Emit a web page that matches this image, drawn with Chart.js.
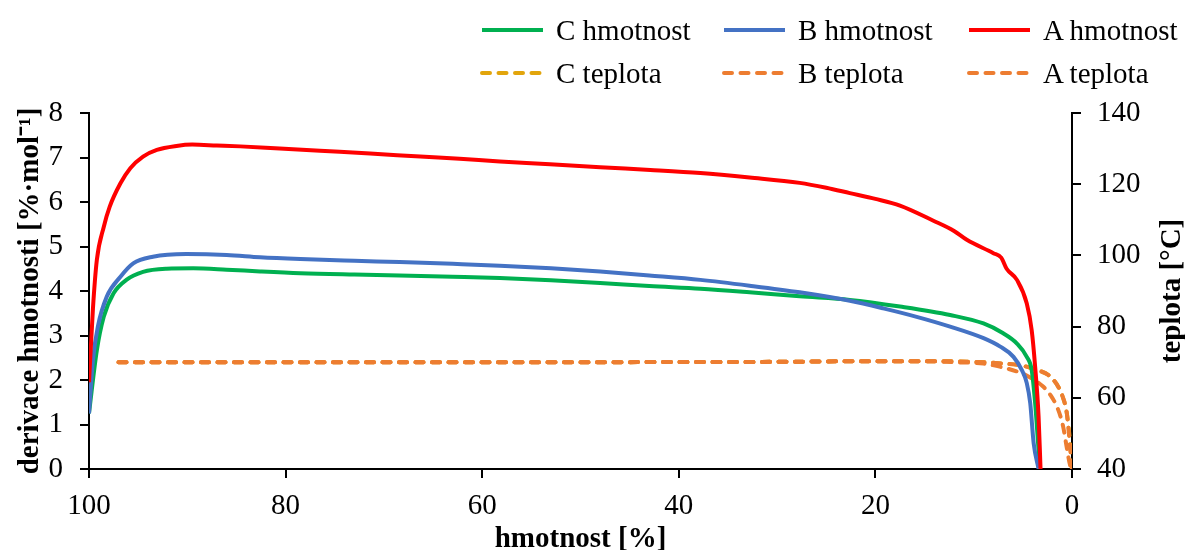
<!DOCTYPE html>
<html>
<head>
<meta charset="utf-8">
<script src="https://cdn.jsdelivr.net/npm/chart.js@4.4.1/dist/chart.umd.min.js"></script>
<style>
  html, body { margin: 0; padding: 0; background: #fff; }
  #wrap { position: relative; width: 1185px; height: 550px; }
  #legend { position: absolute; left: 0; top: 0; width: 1185px; height: 100px; font-family: 'Liberation Serif', 'Times New Roman', serif; font-size: 29px; color: #000; }
  .item { position: absolute; height: 36px; white-space: nowrap; }
  .item svg { position: absolute; left: 0; top: 0; }
  .item span { position: absolute; left: 76px; top: 0; line-height: 36px; }
</style>
</head>
<body>
<div id="wrap">
  <canvas id="c" width="1185" height="550"></canvas>
  <div id="legend"></div>
</div>
<script>
// ---- data (x = hmotnost [%]) ----
const aHmotX = [100, 99.6, 99.2, 98.5, 97.9, 96.8, 95.8, 94.5, 93.1, 91.1, 89.5, 87, 84.6, 80.6, 76.5, 71.4, 66.3, 62.3, 58.2, 53.1, 48, 42.9, 37.8, 32.8, 27.7, 25, 22.6, 20, 17.5, 14.1, 12, 10.7, 8, 7.2, 6.65, 5.6, 4.6, 4.1, 3.75, 3.4, 3.2];
const aHmotY = [1.95, 3.6, 4.7, 5.44, 5.89, 6.42, 6.76, 7.02, 7.17, 7.26, 7.29, 7.27, 7.25, 7.2, 7.15, 7.09, 7.02, 6.97, 6.91, 6.85, 6.78, 6.72, 6.65, 6.55, 6.43, 6.32, 6.2, 6.07, 5.92, 5.58, 5.35, 5.15, 4.85, 4.75, 4.5, 4.25, 3.72, 3.12, 2.3, 1.18, 0];

const bHmotX = [100, 99.6, 99.1, 98.2, 96.8, 95.5, 93.5, 90.1, 86, 82.6, 78.5, 73, 68.4, 63, 58.2, 53, 48, 43, 37.8, 32.8, 27.7, 22.6, 19.2, 15.8, 12.4, 9, 7.3, 5.95, 5.1, 4.6, 4.25, 3.9, 3.4];
const bHmotY = [1.25, 2.45, 3.2, 3.87, 4.32, 4.62, 4.77, 4.83, 4.81, 4.76, 4.72, 4.68, 4.65, 4.61, 4.57, 4.51, 4.44, 4.35, 4.25, 4.12, 3.97, 3.78, 3.61, 3.42, 3.2, 2.94, 2.75, 2.52, 2.22, 1.93, 1.48, 0.58, 0];

const cHmotX = [100, 99.2, 98.5, 97.5, 96.2, 94.5, 92.1, 89.4, 86, 82.6, 78.5, 73, 68.4, 63, 58.2, 53, 48, 43, 37.8, 32.8, 27.7, 22.6, 17.5, 12.4, 9, 7, 5.6, 4.6, 4.1, 3.75, 3.4, 3.25];
const cHmotY = [1.25, 2.67, 3.42, 3.95, 4.25, 4.43, 4.5, 4.51, 4.48, 4.44, 4.4, 4.37, 4.35, 4.32, 4.29, 4.24, 4.18, 4.11, 4.05, 3.97, 3.88, 3.8, 3.65, 3.46, 3.27, 3.05, 2.82, 2.52, 2.22, 1.48, 0.43, 0];

const aTeplX = [97, 90, 80, 70, 60, 50, 40, 30, 20, 15, 10, 7, 5, 3.6, 2.4, 1.4, 0.9, 0.55, 0.38, 0.2, 0];
const aTeplY = [70, 70, 70, 70, 70, 70, 70.05, 70.1, 70.3, 70.3, 70.1, 69.6, 69, 67.8, 66.4, 63.1, 59.9, 56.1, 51.9, 46.3, 40];

const bTeplX = [97, 90, 80, 70, 60, 50, 40, 30, 20, 15, 12, 9, 7, 5.5, 4.3, 3, 2.2, 1.4, 0.9, 0.55, 0.2, 0];
const bTeplY = [70, 70, 70, 70, 70, 70, 70.05, 70.1, 70.3, 70.3, 70, 69.6, 68.5, 67.3, 65.8, 63.3, 60.8, 56.6, 51.9, 46.3, 41.1, 40];

const cTeplX = [97, 90, 80, 70, 60, 50, 40, 30, 20, 15, 10, 7, 5, 3.6, 2.4, 1.4, 0.9, 0.55, 0.3, 0.1, 0];
const cTeplY = [70, 70, 70, 70, 70, 70, 70.05, 70.1, 70.3, 70.3, 70.1, 69.6, 69, 67.8, 66.4, 63.1, 59.9, 56.1, 50.5, 44, 40];

const xTicks = [0, 20, 40, 60, 80, 100];
const yLeftTicks = [0, 1, 2, 3, 4, 5, 6, 7, 8];
const yRightTicks = [40, 60, 80, 100, 120, 140];

const seriesNames = ['C hmotnost', 'B hmotnost', 'A hmotnost', 'C teplota', 'B teplota', 'A teplota'];
const seriesColors = ['#00B050', '#4472C4', '#FF0000', '#E2A50C', '#ED7D31', '#ED7D31'];

// ---- build ----
function pts(xs, ys) { return xs.map((x, i) => ({ x: x, y: ys[i] })); }

const FONT = "'Liberation Serif', 'Times New Roman', serif";
Chart.defaults.font.family = FONT;
Chart.defaults.color = '#000';

const solid = (label, color, data, order) => ({
  label, data, borderColor: color, backgroundColor: color, borderWidth: 4,
  pointRadius: 0, cubicInterpolationMode: 'monotone', yAxisID: 'y', order, fill: false
});
const dashed = (label, color, data, order) => ({
  label, data, borderColor: color, backgroundColor: color, borderWidth: 4,
  borderDash: [8, 8.5], borderCapStyle: 'round',
  pointRadius: 0, cubicInterpolationMode: 'monotone', yAxisID: 'y2', order, fill: false
});

const datasets = [
  solid(seriesNames[0], seriesColors[0], pts(cHmotX, cHmotY), 2),
  solid(seriesNames[1], seriesColors[1], pts(bHmotX, bHmotY), 1),
  solid(seriesNames[2], seriesColors[2], pts(aHmotX, aHmotY), 0),
  dashed(seriesNames[3], seriesColors[3], pts(cTeplX, cTeplY), 5),
  dashed(seriesNames[4], seriesColors[4], pts(bTeplX, bTeplY), 4),
  dashed(seriesNames[5], seriesColors[5], pts(aTeplX, aTeplY), 3)
];

const axisCommon = {
  grid: { drawOnChartArea: false, drawTicks: true, tickLength: 9, color: '#000', lineWidth: 2 },
  border: { display: true, color: '#000', width: 2 }
};

const rightTitle = {
  id: 'rightTitle',
  afterDraw(chart) {
    const ctx = chart.ctx;
    const ca = chart.chartArea;
    ctx.save();
    ctx.translate(1173, (ca.top + ca.bottom) / 2);
    ctx.rotate(-Math.PI / 2);
    ctx.font = "bold 29px " + FONT;
    ctx.fillStyle = '#000';
    ctx.textAlign = 'center';
    ctx.textBaseline = 'middle';
    ctx.fillText('teplota [°C]', 0, 0);
    ctx.restore();
  }
};

new Chart(document.getElementById('c'), {
  type: 'line',
  data: { datasets },
  plugins: [rightTitle],
  options: {
    responsive: false,
    animation: false,
    layout: { padding: { top: 113, left: 0, right: 0, bottom: 0 } },
    plugins: { legend: { display: false }, tooltip: { enabled: false } },
    scales: {
      x: Object.assign({}, axisCommon, {
        type: 'linear', min: 0, max: 100, reverse: true,
        afterBuildTicks: s => { s.ticks = xTicks.map(v => ({ value: v })); },
        ticks: { font: { size: 29 }, padding: 11, maxRotation: 0 },
        title: { display: true, text: 'hmotnost [%]', font: { size: 29, weight: 'bold', lineHeight: 1 }, padding: { top: 0, bottom: -4 } },
        afterFit: s => { s.height = 81; }
      }),
      y: Object.assign({}, axisCommon, {
        type: 'linear', position: 'left', min: 0, max: 8,
        afterBuildTicks: s => { s.ticks = yLeftTicks.map(v => ({ value: v })); },
        ticks: { font: { size: 29 }, padding: 17 },
        title: { display: true, text: 'derivace hmotnosti [%·mol⁻¹]', font: { size: 29, weight: 'bold', lineHeight: 1 }, padding: { top: 16, bottom: 0 } },
        afterFit: s => { s.width = 89; }
      }),
      y2: Object.assign({}, axisCommon, {
        type: 'linear', position: 'right', min: 40, max: 140,
        afterBuildTicks: s => { s.ticks = yRightTicks.map(v => ({ value: v })); },
        ticks: { font: { size: 29 }, padding: 16 },
        title: { display: false },
        afterFit: s => { s.width = 113; }
      })
    }
  }
});

// ---- HTML legend (3 columns x 2 rows) ----
const legendCols = [480, 722, 967];
const legendRows = [12, 55];
const legend = document.getElementById('legend');
seriesNames.forEach((name, i) => {
  const col = i % 3, row = Math.floor(i / 3);
  const d = document.createElement('div');
  d.className = 'item';
  d.style.left = legendCols[col] + 'px';
  d.style.top = legendRows[row] + 'px';
  const isDash = i >= 3;
  d.innerHTML = '<svg width="66" height="36"><line x1="2" y1="18" x2="63" y2="18" stroke="' + seriesColors[i] +
    '" stroke-width="4"' + (isDash ? ' stroke-dasharray="8 8.5" stroke-linecap="round"' : '') + '/></svg>' +
    '<span>' + name + '</span>';
  legend.appendChild(d);
});
</script>
</body>
</html>
